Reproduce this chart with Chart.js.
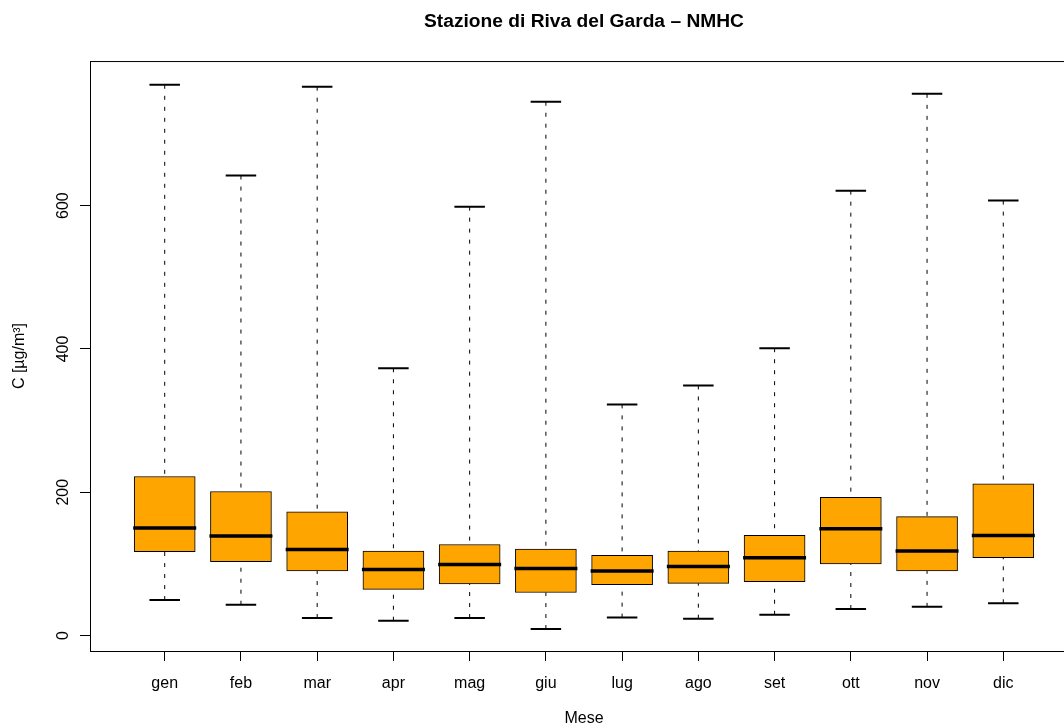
<!DOCTYPE html>
<html>
<head>
<meta charset="utf-8">
<script src="https://cdn.jsdelivr.net/npm/chart.js@4"></script>
<style>
  html, body { margin: 0; padding: 0; background: #fff; overflow: hidden; }
  #wrap { width: 1064px; height: 728px; overflow: hidden; }
</style>
</head>
<body>
<div id="wrap"><canvas id="nmhc_chart" width="1078" height="728"></canvas></div>
<script>
// monthly NMHC boxplot values (µg/m³)
const months = ['gen', 'feb', 'mar', 'apr', 'mag', 'giu', 'lug', 'ago', 'set', 'ott', 'nov', 'dic'];
const whisker_low = [49.5, 43, 24.4, 20.7, 24.4, 9, 25, 23.5, 29, 37, 40, 45];
const q1 = [117, 103, 90, 64.4, 72, 60, 71, 72.7, 75, 100, 90, 108.5];
const medians = [150, 139, 120, 92, 99, 93.6, 90, 96.4, 108.5, 149, 118, 139.6];
const q3 = [222, 201, 172.6, 118, 127, 120.6, 112, 118, 140, 193, 166, 211.6];
const whisker_high = [768.6, 642, 766, 373, 598.6, 745, 322.6, 349, 401, 620.9, 756, 607];
const y_ticks = [0, 200, 400, 600];

const FONT = "'Liberation Sans', Arial, Helvetica, sans-serif";
const BOX_W = 61;

// whiskers, caps, medians, frame and rotated y labels
const box_extras = {
    id: 'box_extras',
    afterDatasetsDraw(chart) {
        const ctx = chart.ctx;
        const x = chart.scales.x;
        const y = chart.scales.y;
        ctx.save();
        months.forEach((m, i) => {
            const px = x.getPixelForValue(i + 1);

            // dashed whiskers
            ctx.strokeStyle = '#000';
            ctx.lineWidth = 1;
            ctx.setLineDash([4, 7]);
            ctx.beginPath();
            ctx.moveTo(px, y.getPixelForValue(whisker_high[i]));
            ctx.lineTo(px, y.getPixelForValue(q3[i]));
            ctx.moveTo(px, y.getPixelForValue(whisker_low[i]));
            ctx.lineTo(px, y.getPixelForValue(q1[i]));
            ctx.stroke();
            ctx.setLineDash([]);

            // caps
            ctx.lineWidth = 2;
            ctx.beginPath();
            [whisker_high[i], whisker_low[i]].forEach(v => {
                const py = y.getPixelForValue(v);
                ctx.moveTo(px - BOX_W / 4, py);
                ctx.lineTo(px + BOX_W / 4, py);
            });
            ctx.stroke();

            // median
            ctx.lineWidth = 3.5;
            ctx.beginPath();
            const pm = y.getPixelForValue(medians[i]);
            ctx.moveTo(px - BOX_W / 2 - 1, pm);
            ctx.lineTo(px + BOX_W / 2 + 1, pm);
            ctx.stroke();
        });
        ctx.restore();
    },
    afterDraw(chart) {
        const ctx = chart.ctx;
        const a = chart.chartArea;
        const y = chart.scales.y;
        ctx.save();
        ctx.strokeStyle = '#000';
        ctx.lineWidth = 1;
        ctx.strokeRect(a.left + 0.5, a.top + 0.5, a.right - a.left - 1, a.bottom - a.top);

        ctx.fillStyle = '#000';
        ctx.font = '16px ' + FONT;
        ctx.textAlign = 'center';
        ctx.textBaseline = 'alphabetic';
        y_ticks.forEach(v => {
            ctx.save();
            ctx.translate(67.5, y.getPixelForValue(v));
            ctx.rotate(-Math.PI / 2);
            ctx.fillText(String(v), 0, 0);
            ctx.restore();
        });
        ctx.restore();
    }
};

const chart_data = {
    datasets: [{
        label: 'NMHC',
        data: months.map((m, i) => ({ x: i + 1, y: [q1[i], q3[i]] })),
        backgroundColor: '#FFA500',
        borderColor: '#000',
        borderWidth: 1,
        borderSkipped: false,
        barThickness: BOX_W
    }]
};

const config = {
    type: 'bar',
    data: chart_data,
    plugins: [box_extras],
    options: {
        responsive: false,
        animation: false,
        layout: { padding: 0 },
        plugins: {
            legend: { display: false },
            tooltip: { enabled: false },
            title: {
                display: true,
                text: 'Stazione di Riva del Garda \u2013 NMHC',
                fullSize: false,
                color: '#000',
                font: { family: FONT, size: 19.2, weight: 'bold' },
                padding: { top: 10.5, bottom: 27.5 }
            }
        },
        scales: {
            x: {
                type: 'linear',
                min: 0.02,
                max: 12.98,
                offset: false,
                afterBuildTicks: scale => {
                    scale.ticks = months.map((m, i) => ({ value: i + 1 }));
                },
                afterFit: scale => { scale.height = 77; },
                ticks: {
                    autoSkip: false,
                    maxRotation: 0,
                    minRotation: 0,
                    padding: 13,
                    color: '#000',
                    font: { family: FONT, size: 16 },
                    callback: v => months[v - 1]
                },
                grid: {
                    drawOnChartArea: false,
                    drawTicks: true,
                    tickLength: 10,
                    color: '#000',
                    offset: false
                },
                border: { display: true, color: '#000' },
                title: {
                    display: true,
                    text: 'Mese',
                    color: '#000',
                    font: { family: FONT, size: 16 },
                    padding: { top: 0, bottom: 0 }
                }
            },
            y: {
                min: -21.6,
                max: 801.8,
                afterBuildTicks: scale => {
                    scale.ticks = y_ticks.map(v => ({ value: v }));
                },
                afterFit: scale => { scale.width = 90; },
                ticks: { display: false },
                grid: {
                    drawOnChartArea: false,
                    drawTicks: true,
                    tickLength: 10,
                    color: '#000'
                },
                border: { display: true, color: '#000' },
                title: {
                    display: true,
                    text: 'C [\u00b5g/m\u00b3]',
                    color: '#000',
                    font: { family: FONT, size: 16 },
                    padding: { top: 10, bottom: 0 }
                }
            }
        }
    }
};

const nmhc_chart = new Chart(document.getElementById('nmhc_chart'), config);
</script>
</body>
</html>
